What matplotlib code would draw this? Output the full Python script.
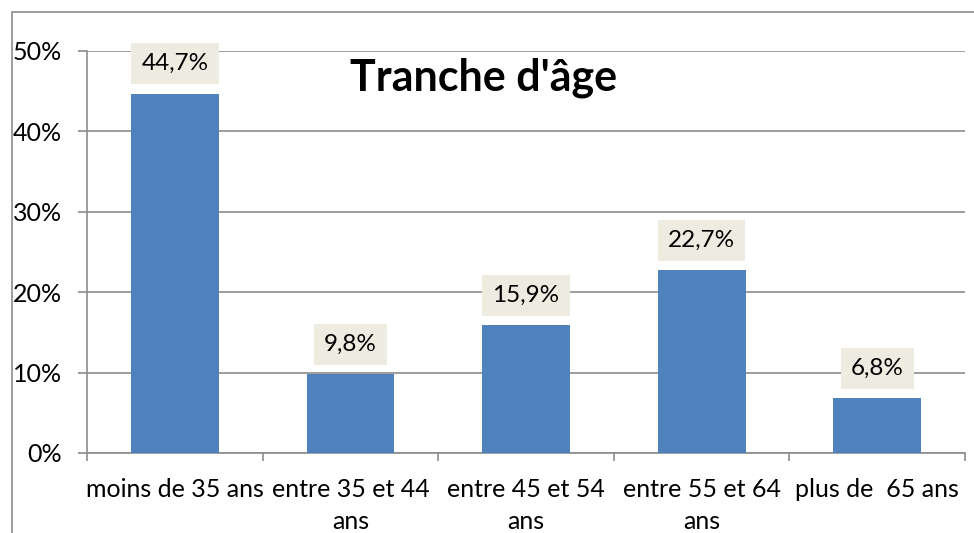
import matplotlib
matplotlib.use("Agg")
import matplotlib.pyplot as plt
from matplotlib.patches import Rectangle
import numpy as np

categories = ["moins de 35 ans", "entre 35 et 44\nans", "entre 45 et 54\nans",
              "entre 55 et 64\nans", "plus de  65 ans"]
values = [44.7, 9.8, 15.9, 22.7, 6.8]
value_labels = ["44,7%", "9,8%", "15,9%", "22,7%", "6,8%"]
yticks = [0, 10, 20, 30, 40, 50]
ytick_labels = ["0%", "10%", "20%", "30%", "40%", "50%"]

plt.rcParams['font.family'] = ['Lato', 'DejaVu Sans']

W, H = 974, 533
fig = plt.figure(figsize=(W / 100, H / 100), dpi=100)
ax = fig.add_axes([87 / W, 1 - 453 / H, (965 - 87) / W, (453 - 51) / H])

x = np.arange(len(values))
ax.bar(x, values, width=0.5, color="#4F81BD", zorder=3)
ax.set_xlim(-0.5, len(values) - 0.5)
ax.set_ylim(0, 50)

FS = 18
ax.set_yticks(yticks)
ax.set_yticklabels(ytick_labels, fontsize=FS)
ax.yaxis.grid(True, color="#8c8c8c", linewidth=1.2, zorder=0)
ax.set_axisbelow(True)

ax.set_xticks(np.arange(len(values) + 1) - 0.5, minor=False)
ax.set_xticklabels([])
ax.set_xticks(x, minor=True)
ax.set_xticklabels(categories, minor=True, fontsize=FS, linespacing=1.45)
ax.tick_params(axis="x", which="minor", length=0, pad=18)
ax.tick_params(axis="x", which="major", length=5.8, color="#8c8c8c", width=1.2)
ax.tick_params(axis="y", length=6.5, color="#8c8c8c", width=1.2, pad=11.5)

for s in ["top", "right"]:
    ax.spines[s].set_visible(False)
for s in ["left", "bottom"]:
    ax.spines[s].set_color("#8c8c8c")
    ax.spines[s].set_linewidth(1.2)

for xi, v, lab in zip(x, values, value_labels):
    ax.annotate(lab, (xi, v), xytext=(0, 21.5), textcoords="offset points",
                ha="center", va="center", fontsize=FS - 0.5, zorder=5,
                bbox=dict(boxstyle="square,pad=0.42", facecolor="#EEECE1",
                          edgecolor="none"))

fig.text(484 / W, 1 - 78 / H, "Tranche d'âge", ha="center", va="center",
         fontsize=31, fontweight="bold")

fig.patches.append(Rectangle((12 / W, -0.1), 1.1, 1 - 12 / H + 0.1,
                             transform=fig.transFigure, fill=False,
                             edgecolor="#8c8c8c", linewidth=1.2))

fig.savefig("out.png", dpi=100)
